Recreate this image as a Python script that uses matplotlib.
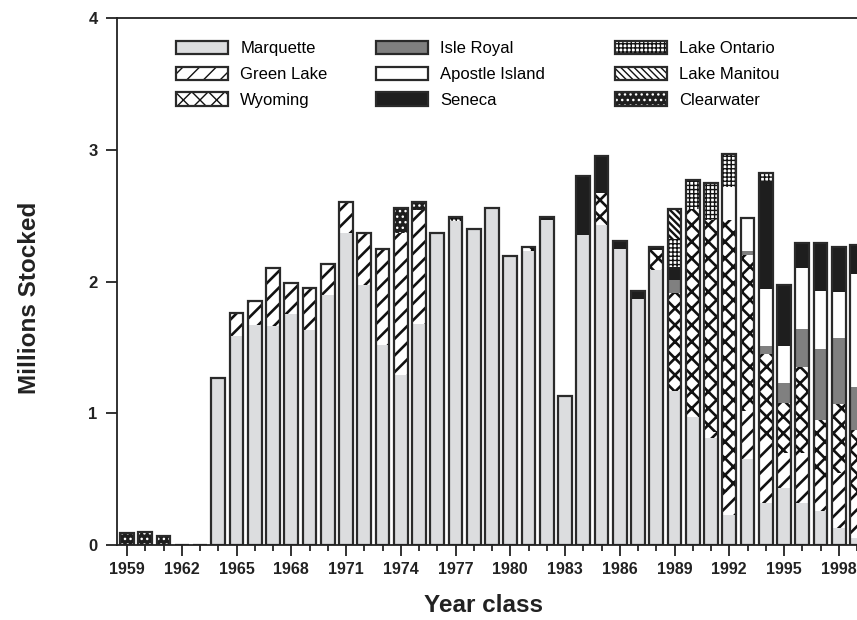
"""
Lake trout stocking by strain, stacked bars per year class.
"""
import matplotlib
matplotlib.use('Agg')
import matplotlib.pyplot as plt
from matplotlib.patches import Patch
from matplotlib.legend_handler import HandlerTuple
from matplotlib.ticker import MultipleLocator
import numpy as np

plt.rcParams['font.family'] = ['Liberation Sans', 'DejaVu Sans']

years = list(range(1959, 2000))

# millions stocked, one value per year class 1959..1999
marquette = [0, 0, 0, 0, 0, 1.27, 1.59, 1.67, 1.66, 1.75,
             1.63, 1.90, 2.37, 1.97, 1.52, 1.29, 1.68, 2.37, 2.46, 2.40,
             2.56, 2.19, 2.23, 2.47, 1.13, 2.35, 2.43, 2.25, 1.87, 2.09,
             1.17, 0.97, 0.81, 0.23, 0.65, 0.32, 0.43, 0.32, 0.26, 0.13,
             0.05]
green_lake = [0, 0, 0, 0, 0, 0, 0.17, 0.18, 0.44, 0.24,
              0.32, 0.23, 0.23, 0.40, 0.73, 1.08, 0.86, 0, 0, 0,
              0, 0, 0, 0, 0, 0, 0, 0, 0, 0,
              0, 0, 0.05, 0.17, 0.37, 0.48, 0.27, 0.38, 0.23, 0.42,
              0.35]
wyoming = [0, 0, 0, 0, 0, 0, 0, 0, 0, 0,
           0, 0, 0, 0, 0, 0, 0, 0, 0, 0,
           0, 0, 0.03, 0, 0, 0, 0.24, 0, 0, 0.15,
           0.74, 1.58, 1.61, 2.07, 1.18, 0.65, 0.38, 0.65, 0.46, 0.52,
           0.47]
isle_royal = [0] * 30 + [0.10, 0, 0, 0, 0.03, 0.06, 0.15, 0.29, 0.54, 0.50,
                         0.33]
apostle = [0] * 30 + [0, 0, 0, 0.25, 0.25, 0.43, 0.28, 0.46, 0.44, 0.35,
                      0.86]
seneca = [0, 0, 0, 0, 0, 0, 0, 0, 0, 0,
          0, 0, 0, 0, 0, 0, 0, 0, 0, 0,
          0, 0, 0, 0.02, 0, 0.45, 0.28, 0.06, 0.06, 0.02,
          0.10, 0, 0, 0, 0, 0.82, 0.46, 0.19, 0.36, 0.34,
          0.22]
lake_ontario = [0] * 18 + [0.03] + [0] * 11 + [0.21, 0.22, 0.28, 0.25, 0,
                                             0.06, 0, 0, 0, 0, 0]
lake_manitou = [0] * 30 + [0.23] + [0] * 10
clearwater = [0.09, 0.10, 0.07] + [0] * 12 + [0.19, 0.06] + [0] * 24

strains = ['Marquette', 'Green Lake', 'Wyoming', 'Isle Royal', 'Apostle Island',
           'Seneca', 'Lake Ontario', 'Lake Manitou', 'Clearwater']
series = [marquette, green_lake, wyoming, isle_royal, apostle, seneca,
          lake_ontario, lake_manitou, clearwater]

EDGE = '#2a2a2a'
# facecolor, hatch, hatch color, hatch linewidth
STYLE = {
    'Marquette':      ('#dcdddf', None, EDGE, 1.0),
    'Green Lake':     ('white', '//', '#111111', 1.9),
    'Wyoming':        ('white', 'xx', '#111111', 1.9),
    'Isle Royal':     ('#808080', None, EDGE, 1.0),
    'Apostle Island': ('white', None, EDGE, 1.0),
    'Seneca':         ('#1e1e1e', None, EDGE, 1.0),
    'Lake Ontario':   ('white', '++++', '#111111', 1.0),
    'Lake Manitou':   ('white', '\\' * 5, '#111111', 1.7),
    'Clearwater':     ('#1e1e1e', '...', 'white', 1.0),
}


def make_patch(name, **kw):
    fc, hatch, hc, hlw = STYLE[name]
    with plt.rc_context({'hatch.linewidth': hlw}):
        p = Patch(facecolor=fc, edgecolor=hc, hatch=hatch, linewidth=0, **kw)
    if hasattr(p, 'set_hatch_linewidth'):
        p.set_hatch_linewidth(hlw)
    return p


fig = plt.figure(figsize=(8.57, 6.2), dpi=100)
ax = fig.add_axes([117 / 857, 1 - 545 / 620, 1 - 117 / 857, (545 - 18) / 620])

x = np.array(years)
width = 0.76
bottom = np.zeros(len(years))
for name, vals in zip(strains, series):
    vals = np.array(vals, dtype=float)
    fc, hatch, hc, hlw = STYLE[name]
    with plt.rc_context({'hatch.linewidth': hlw}):
        bars = ax.bar(x, vals, width, bottom=bottom, color=fc, edgecolor=hc,
                      hatch=hatch, linewidth=0)
    for b in bars:
        if hasattr(b, 'set_hatch_linewidth'):
            b.set_hatch_linewidth(hlw)
    bottom += vals
# outline of each stacked bar
ax.bar(x, bottom, width, fill=False, edgecolor=EDGE, linewidth=1.6)

ax.set_xlim(1958.45, 1959 + (857 - 127) / 18.25)
ax.set_ylim(0, 4)
ax.spines['right'].set_visible(False)
for s in ['left', 'bottom', 'top']:
    ax.spines[s].set_linewidth(1.3)
    ax.spines[s].set_color('#222222')

ax.set_xticks(years[::3])
ax.xaxis.set_minor_locator(MultipleLocator(1))
ax.set_yticks([0, 1, 2, 3, 4])
ax.tick_params(axis='both', which='major', direction='out', length=8,
               width=1.3, color='#222222', labelsize=11.5, pad=4)
ax.tick_params(axis='x', which='minor', direction='out', length=4, width=1.1)
ax.tick_params(axis='y', labelsize=12, pad=6)
for lab in ax.get_xticklabels() + ax.get_yticklabels():
    lab.set_fontweight('bold')
    lab.set_color('#222222')

fig.text(30 / 857, 1 - 298 / 620, 'Millions Stocked', rotation=90,
         fontsize=17.5, fontweight='bold', ha='center', va='center',
         color='#222222')
fig.text(484 / 857, 1 - 606 / 620, 'Year class', fontsize=17.5,
         fontweight='bold', ha='center', va='center', color='#222222')

# legend, three hand-placed columns
handles = []
for name in strains:
    h = (make_patch(name), Patch(fill=False, edgecolor=EDGE, linewidth=1.6))
    handles.append(h)

col_x = [176, 376, 615]
for i, cx in enumerate(col_x):
    hs = handles[i * 3:(i + 1) * 3]
    ls = strains[i * 3:(i + 1) * 3]
    fig.legend(hs, ls, loc='upper left', bbox_to_anchor=(cx / 857, 1 - 41 / 620),
               frameon=False, borderpad=0, borderaxespad=0, fontsize=12,
               handlelength=3.1, handleheight=0.85, handletextpad=0.75,
               labelspacing=0.62,
               handler_map={tuple: HandlerTuple(ndivide=1, pad=0)})

fig.savefig('out.png', dpi=100)
